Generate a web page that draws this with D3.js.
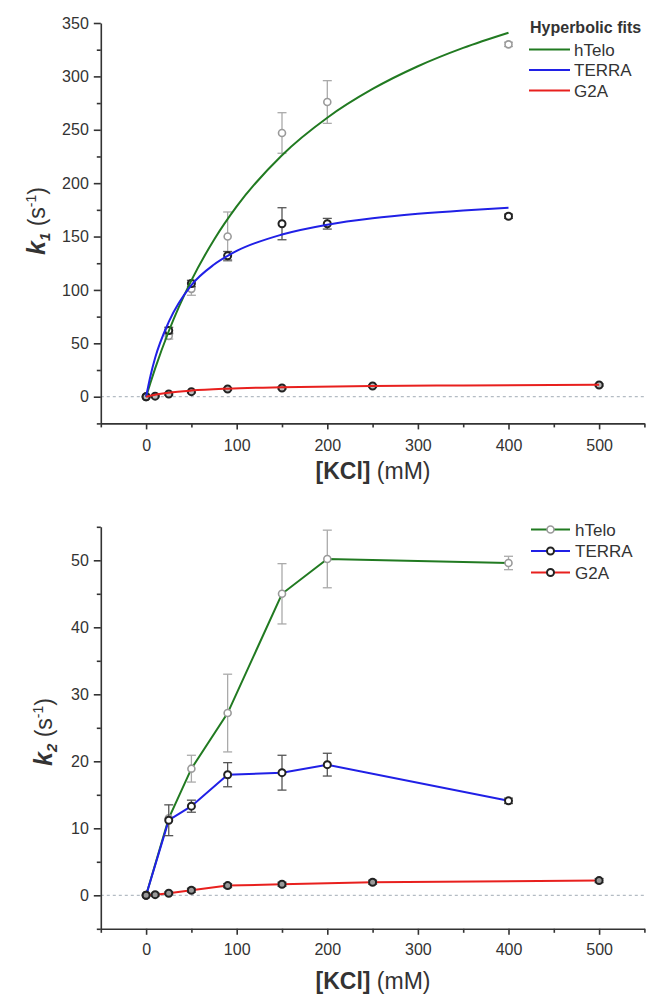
<!DOCTYPE html>
<html>
<head>
<meta charset="utf-8">
<script src="https://cdn.jsdelivr.net/npm/d3@7"></script>
<style>
  body { margin: 0; background: #fff; }
  text { font-family: Arial, "Liberation Sans", sans-serif; fill: #333; }
</style>
</head>
<body>
<div id="G"></div>
<script>
// KCl concentrations (mM)
var concX = [0, 25, 50, 90, 150, 200, 400];
var g2aX = [0, 10, 25, 50, 90, 150, 250, 500];

// k1 measured points
var k1Telo = [0, 57, 101, 150, 247, 276, 330];
var k1TeloErr = [0, 3, 6, 23, 19, 20, 2];
var k1Terra = [0, 62, 106, 132, 162, 162, 169];
var k1TerraErr = [0, 3, 3, 4, 15, 5, 2];
var k1G2a = [0, 0.5, 2.5, 4.7, 7.2, 8.2, 10, 11];
var k1G2aErr = [0, 0.5, 1, 1, 1, 1, 1, 1];

// hyperbolic fit curves
var fitX = [0, 5, 10, 25, 50, 75, 100, 150, 200, 250, 300, 350, 400];
var fitTelo = [0, 13.6, 26.5, 61.3, 108.9, 147, 178.2, 226.2, 261.3, 288.2, 309.5, 326.7, 340.9];
var fitTerra = [0, 20.1, 36.4, 70, 104.5, 123.8, 136.5, 151.9, 161.1, 167.1, 171.3, 174.5, 177];
var fitG2aX = [0, 10, 25, 50, 90, 150, 250, 350, 500];
var fitG2a = [0, 1.8, 3.7, 5.7, 7.5, 8.9, 10.1, 10.6, 11.2];

// k2 measured points
var k2Telo = [0, 11.5, 18.9, 27.2, 45, 50.2, 49.6];
var k2TeloErr = [0, 0, 2, 5.8, 4.5, 4.3, 1];
var k2Terra = [0, 11.2, 13.3, 18, 18.3, 19.5, 14.1];
var k2TerraErr = [0, 2.3, 0.9, 1.8, 2.6, 1.7, 0.4];
var k2G2a = [0, 0.1, 0.3, 0.75, 1.45, 1.65, 1.95, 2.2];
var k2G2aErr = [0, 0.2, 0.2, 0.3, 0.3, 0.3, 0.3, 0.3];

var xTicks = [0, 100, 200, 300, 400, 500];
var xMinor = [-50, 50, 150, 250, 350, 450, 550];
var k1Ticks = [0, 50, 100, 150, 200, 250, 300, 350];
var k1Minor = [-25, 25, 75, 125, 175, 225, 275, 325];
var k2Ticks = [0, 10, 20, 30, 40, 50];
var k2Minor = [-5, 5, 15, 25, 35, 45, 55];

var seriesNames = ["hTelo", "TERRA", "G2A"];
var colors = { hTelo: "#217a21", TERRA: "#2020e6", G2A: "#e8201e" };

var svg = d3.select("#G").append("svg")
  .attr("width", 647)
  .attr("height", 995);

function zip(xs, ys, es) {
  return xs.map(function (x, i) { return { x: x, y: ys[i], e: es ? es[i] : 0 }; });
}

function Panel(opt) {
  var x = d3.scaleLinear().domain([-50, 550]).range([100.8, 644.4]);
  var y = d3.scaleLinear().domain(opt.yDomain).range(opt.yRange);
  var g = svg.append("g");

  // zero line
  g.append("line")
    .attr("x1", x(-50)).attr("x2", x(550))
    .attr("y1", y(0)).attr("y2", y(0))
    .attr("stroke", "#b4bcc4")
    .attr("stroke-width", 1.2)
    .attr("stroke-dasharray", "3,3");

  // axes
  g.append("g")
    .attr("transform", "translate(" + x(-50) + ",0)")
    .call(d3.axisLeft(y).tickValues(opt.yTicks).tickSize(7).tickSizeOuter(0).tickPadding(5));
  g.append("g")
    .attr("transform", "translate(" + x(-50) + ",0)")
    .call(d3.axisLeft(y).tickValues(opt.yMinor).tickSize(4).tickFormat(""))
    .select(".domain").remove();
  g.append("g")
    .attr("transform", "translate(0," + y(opt.yDomain[0]) + ")")
    .call(d3.axisBottom(x).tickValues(xTicks).tickSize(6).tickSizeOuter(0).tickPadding(opt.xPad));
  g.append("g")
    .attr("transform", "translate(0," + y(opt.yDomain[0]) + ")")
    .call(d3.axisBottom(x).tickValues(xMinor).tickSize(4).tickFormat(""))
    .select(".domain").remove();

  g.selectAll(".domain, .tick line").attr("stroke", "#333").attr("stroke-width", 1.6);
  g.selectAll(".tick text").attr("font-size", 16).attr("fill", "#333")
    .style("font-family", "Arial, 'Liberation Sans', sans-serif");

  // x title
  var xt = g.append("text")
    .attr("x", 373).attr("y", opt.xTitleY)
    .attr("text-anchor", "middle")
    .attr("font-size", 23);
  xt.append("tspan").attr("font-weight", "bold").text("[KCl]");
  xt.append("tspan").text(" (mM)");

  // y title
  var yt = g.append("text")
    .attr("transform", "translate(" + opt.yTitleX + "," + opt.yTitleY + ") rotate(-90)")
    .attr("text-anchor", "middle")
    .attr("font-size", 23);
  yt.append("tspan").attr("font-weight", "bold").attr("font-style", "italic").attr("font-size", 25).text("k");
  yt.append("tspan").attr("font-weight", "bold").attr("font-style", "italic").attr("font-size", 15).attr("dy", 5).text(opt.sub);
  yt.append("tspan").attr("dy", -5).text(" (s");
  yt.append("tspan").attr("font-size", 14).attr("dy", -9).text("-1");
  yt.append("tspan").attr("dy", 9).text(")");

  return { g: g, x: x, y: y };
}

function Lines(p, pts, color, curve) {
  p.g.append("path")
    .datum(pts)
    .attr("fill", "none")
    .attr("stroke", color)
    .attr("stroke-width", 2)
    .attr("d", d3.line()
      .curve(curve)
      .x(function (d) { return p.x(d.x) })
      .y(function (d) { return p.y(d.y) })
    );
}

function Points(p, pts, stroke, fill, errColor) {
  var eb = p.g.append("g").attr("stroke", errColor).attr("stroke-width", 1.3);
  pts.forEach(function (d) {
    if (!d.e) return;
    var cx = p.x(d.x);
    eb.append("line").attr("x1", cx).attr("x2", cx).attr("y1", p.y(d.y - d.e)).attr("y2", p.y(d.y + d.e));
    eb.append("line").attr("x1", cx - 4.5).attr("x2", cx + 4.5).attr("y1", p.y(d.y - d.e)).attr("y2", p.y(d.y - d.e));
    eb.append("line").attr("x1", cx - 4.5).attr("x2", cx + 4.5).attr("y1", p.y(d.y + d.e)).attr("y2", p.y(d.y + d.e));
  });
  p.g.append("g").selectAll("circle")
    .data(pts)
    .enter().append("circle")
    .attr("cx", function (d) { return p.x(d.x) })
    .attr("cy", function (d) { return p.y(d.y) })
    .attr("r", 3.5)
    .attr("fill", fill)
    .attr("stroke", stroke)
    .attr("stroke-width", stroke == "#222" ? 2 : 1.6);
}

// ---- top panel: k1 ----
var top1 = Panel({
  yDomain: [-25, 350], yRange: [423.4, 23],
  yTicks: k1Ticks, yMinor: k1Minor, xPad: 10,
  xTitleY: 479, yTitleX: 45, yTitleY: 221, sub: "1"
});

Points(top1, zip(concX, k1Telo, k1TeloErr), "#9a9a9a", "#fff", "#aaa");
Points(top1, zip(concX, k1Terra, k1TerraErr), "#222", "#fff", "#555");
Points(top1, zip(g2aX, k1G2a, k1G2aErr), "#222", "#bbb", "#555");
Lines(top1, zip(fitX, fitTelo), colors.hTelo, d3.curveMonotoneX);
Lines(top1, zip(fitX, fitTerra), colors.TERRA, d3.curveMonotoneX);
Lines(top1, zip(fitG2aX, fitG2a), colors.G2A, d3.curveMonotoneX);

var leg1 = svg.append("g");
leg1.append("text").attr("x", 530).attr("y", 33).attr("font-size", 16).attr("font-weight", "bold").text("Hyperbolic fits");
seriesNames.forEach(function (s, i) {
  var yy = 49.5 + i * 20.5;
  leg1.append("line").attr("x1", 529).attr("x2", 570).attr("y1", yy).attr("y2", yy)
    .attr("stroke", colors[s]).attr("stroke-width", 2);
  leg1.append("text").attr("x", 574).attr("y", yy + 6).attr("font-size", 17).text(s);
});

// ---- bottom panel: k2 ----
var bot = Panel({
  yDomain: [-5, 55], yRange: [928.8, 526.8],
  yTicks: k2Ticks, yMinor: k2Minor, xPad: 9,
  xTitleY: 989, yTitleX: 52, yTitleY: 732, sub: "2"
});

Lines(bot, zip(concX, k2Telo), colors.hTelo, d3.curveLinear);
Points(bot, zip(concX, k2Telo, k2TeloErr), "#9a9a9a", "#fff", "#aaa");
Lines(bot, zip(concX, k2Terra), colors.TERRA, d3.curveLinear);
Points(bot, zip(concX, k2Terra, k2TerraErr), "#222", "#fff", "#555");
Lines(bot, zip(g2aX, k2G2a), colors.G2A, d3.curveLinear);
Points(bot, zip(g2aX, k2G2a, k2G2aErr), "#222", "#999", "#555");

var leg2 = svg.append("g");
seriesNames.forEach(function (s, i) {
  var yy = 529.5 + i * 21.5;
  leg2.append("line").attr("x1", 531).attr("x2", 570).attr("y1", yy).attr("y2", yy)
    .attr("stroke", colors[s]).attr("stroke-width", 2);
  leg2.append("circle").attr("cx", 550.5).attr("cy", yy).attr("r", 3.5)
    .attr("fill", "#fff")
    .attr("stroke", s == "hTelo" ? "#9a9a9a" : "#222")
    .attr("stroke-width", s == "hTelo" ? 1.6 : 2);
  leg2.append("text").attr("x", 575).attr("y", yy + 6).attr("font-size", 17).text(s);
});
</script>
</body>
</html>
